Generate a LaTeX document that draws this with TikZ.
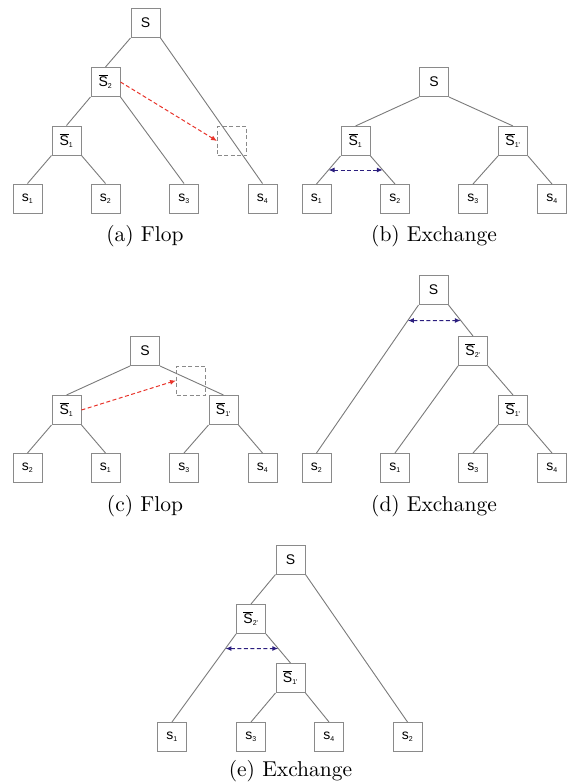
\documentclass[tikz,border=0pt]{standalone}
\usepackage{fontspec}
\newfontfamily\boxfont{Liberation Sans}
\newfontfamily\capfont{lmroman10-regular.otf}
\usetikzlibrary{arrows.meta,calc}
\definecolor{boxgray}{HTML}{8A8A8A}
\definecolor{linegray}{HTML}{7A7A7A}
\definecolor{flopred}{HTML}{E8342B}
\definecolor{exblue}{HTML}{2B1E7E}
\newcommand{\bS}[1]{$\overline{\mbox{S}}_{\mbox{\fontsize{7}{7}\selectfont #1}}$}
\newcommand{\ls}[1]{s$_{\mbox{\fontsize{7}{7}\selectfont #1}}$}
\tikzset{
  tn/.style={draw=boxgray, line width=1pt, minimum size=29pt, inner sep=0pt,
    font=\boxfont\fontsize{14}{14}\selectfont, fill=white},
  ghost/.style={draw=boxgray, dash pattern=on 4pt off 2.5pt, line width=1pt,
    minimum size=29pt, inner sep=0pt},
  edg/.style={draw=linegray, line width=0.9pt},
  flop/.style={draw=flopred, line width=1pt, dash pattern=on 4pt off 2.5pt,
    -{Latex[length=6pt,width=5pt]}},
  swap/.style={draw=exblue, line width=1pt, dash pattern=on 4pt off 2.5pt,
    {Latex[length=6pt,width=5pt]}-{Latex[length=6pt,width=5pt]}},
  captext/.style={anchor=base, font=\capfont\fontsize{21.5}{25}\selectfont, inner sep=0pt}
}
\begin{document}
\begin{tikzpicture}[x=1pt,y=-1pt]
\useasboundingbox (0,0) rectangle (571,782);
% ---------- (a) ----------
\node[tn] (aS) at (145.5,23) {S};
\node[tn] (aB2) at (105.5,82) {\bS{2}};
\node[tn] (aB1) at (66.5,140.5) {\bS{1}};
\node[tn] (a1) at (27.5,198.5) {\ls{1}};
\node[tn] (a2) at (105.5,198.5) {\ls{2}};
\node[tn] (a3) at (184,198.5) {\ls{3}};
\node[tn] (a4) at (262.5,198.5) {\ls{4}};
\node[ghost] (aG) at (232,141) {};
\draw[edg] (aS.south west) -- (aB2.north);
\draw[edg] (aS.south east) -- (a4.north);
\draw[edg] (aB2.south west) -- (aB1.north);
\draw[edg] (aB2.south east) -- (a3.north);
\draw[edg] (aB1.south west) -- (a1.north);
\draw[edg] (aB1.south east) -- (a2.north);
\draw[flop] (aB2.east) -- (aG.west);
\node[captext] (capa) at (145,241.5) {(a) Flop};
% ---------- (b) ----------
\node[tn] (bS) at (434,82) {S};
\node[tn] (bB1) at (355.5,141) {\bS{1}};
\node[tn] (bB1p) at (513,141) {\bS{1'}};
\node[tn] (b1) at (316.5,199) {\ls{1}};
\node[tn] (b2) at (395,199) {\ls{2}};
\node[tn] (b3) at (473,199) {\ls{3}};
\node[tn] (b4) at (552,199) {\ls{4}};
\draw[edg] (bS.south west) -- (bB1.north);
\draw[edg] (bS.south east) -- (bB1p.north);
\draw[edg] (bB1.south west) -- (b1.north);
\draw[edg] (bB1.south east) -- (b2.north);
\draw[edg] (bB1p.south west) -- (b3.north);
\draw[edg] (bB1p.south east) -- (b4.north);
\coordinate (bl) at ($(bB1.south west)!0.5!(b1.north)$);
\coordinate (br) at ($(bB1.south east)!0.5!(b2.north)$);
\draw[swap] (bl) -- (br);
\node[captext] (capb) at (434,241.5) {(b) Exchange};
% ---------- (c) ----------
\node[tn] (cS) at (145,351) {S};
\node[tn] (cB1) at (66.5,410) {\bS{1}};
\node[tn] (cB1p) at (223.5,410) {\bS{1'}};
\node[tn] (c2) at (27.5,468) {\ls{2}};
\node[tn] (c1) at (105.5,468) {\ls{1}};
\node[tn] (c3) at (184,468) {\ls{3}};
\node[tn] (c4) at (262.5,468) {\ls{4}};
\node[ghost] (cG) at (191,380.5) {};
\draw[edg] (cS.south west) -- (cB1.north);
\draw[edg] (cS.south east) -- (cB1p.north);
\draw[edg] (cB1.south west) -- (c2.north);
\draw[edg] (cB1.south east) -- (c1.north);
\draw[edg] (cB1p.south west) -- (c3.north);
\draw[edg] (cB1p.south east) -- (c4.north);
\draw[flop] (cB1.east) -- (cG.west);
\node[captext] (capc) at (145,511.5) {(c) Flop};
% ---------- (d) ----------
\node[tn] (dS) at (433.5,290) {S};
\node[tn] (dB2p) at (473,351) {\bS{2'}};
\node[tn] (dB1p) at (513,410) {\bS{1'}};
\node[tn] (d2) at (316.5,468) {\ls{2}};
\node[tn] (d1) at (395,468) {\ls{1}};
\node[tn] (d3) at (473,468) {\ls{3}};
\node[tn] (d4) at (552,468) {\ls{4}};
\draw[edg] (dS.south west) -- (d2.north);
\draw[edg] (dS.south east) -- (dB2p.north);
\draw[edg] (dB2p.south west) -- (d1.north);
\draw[edg] (dB2p.south east) -- (dB1p.north);
\draw[edg] (dB1p.south west) -- (d3.north);
\draw[edg] (dB1p.south east) -- (d4.north);
\coordinate (dr) at ($(dS.south east)!0.5!(dB2p.north)$);
\coordinate (dr2) at ($(dr)+(-50,0)$);
\coordinate (dl) at (intersection of dS.south west--d2.north and dr--dr2);
\draw[swap] (dl) -- (dr);
\node[captext] (capd) at (434,511.5) {(d) Exchange};
% ---------- (e) ----------
\node[tn] (eS) at (290.5,559.5) {S};
\node[tn] (eB2p) at (251,619) {\bS{2'}};
\node[tn] (eB1p) at (290.5,678) {\bS{1'}};
\node[tn] (e1) at (172,737) {\ls{1}};
\node[tn] (e3) at (251,737) {\ls{3}};
\node[tn] (e4) at (329,737) {\ls{4}};
\node[tn] (e2) at (407.5,737) {\ls{2}};
\draw[edg] (eS.south west) -- (eB2p.north);
\draw[edg] (eS.south east) -- (e2.north);
\draw[edg] (eB2p.south west) -- (e1.north);
\draw[edg] (eB2p.south east) -- (eB1p.north);
\draw[edg] (eB1p.south west) -- (e3.north);
\draw[edg] (eB1p.south east) -- (e4.north);
\coordinate (er) at ($(eB2p.south east)!0.5!(eB1p.north)$);
\coordinate (er2) at ($(er)+(-50,0)$);
\coordinate (el) at (intersection of eB2p.south west--e1.north and er--er2);
\draw[swap] (el) -- (er);
\node[captext] (cape) at (290.5,776) {(e) Exchange};
\end{tikzpicture}
\end{document}
